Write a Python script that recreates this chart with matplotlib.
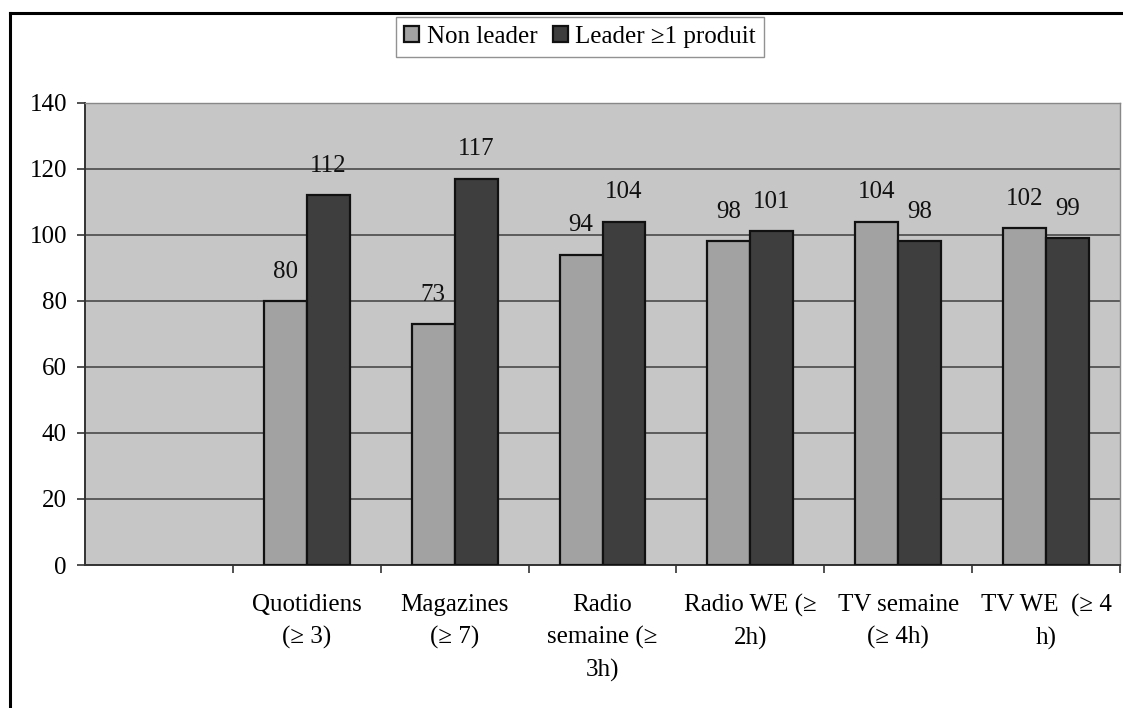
import numpy as np
import matplotlib
matplotlib.use("Agg")
import matplotlib.pyplot as plt
from matplotlib.lines import Line2D

categories = ["", "Quotidiens\n(≥ 3)", "Magazines\n(≥ 7)", "Radio\nsemaine (≥\n3h)",
              "Radio WE (≥\n2h)", "TV semaine\n(≥ 4h)", "TV WE  (≥ 4\nh)"]
non_leader = [np.nan, 80, 73, 94, 98, 104, 102]
leader = [np.nan, 112, 117, 104, 101, 98, 99]
series_names = ["Non leader", "Leader ≥1 produit"]
yticks = [0, 20, 40, 60, 80, 100, 120, 140]

plt.rcParams['font.family'] = ['Liberation Serif', 'DejaVu Serif']

fig = plt.figure(figsize=(11.23, 7.08), dpi=100)
ax = fig.add_axes([85/1123, (708-565)/708, (1120-85)/1123, (565-102.6)/708])
ax.set_facecolor('#c6c6c6')

x = np.arange(len(categories))
w = 0.29
b1 = ax.bar(x - w/2, non_leader, w, color='#a2a2a2', edgecolor='#111111', linewidth=1.6,
            label=series_names[0], zorder=3)
b2 = ax.bar(x + w/2, leader, w, color='#3e3e3e', edgecolor='#111111', linewidth=1.6,
            label=series_names[1], zorder=3)

for bars, vals in ((b1, non_leader), (b2, leader)):
    for r, v in zip(bars, vals):
        if np.isnan(v):
            continue
        ax.text(r.get_x() + r.get_width()/2, v + 5.5, f"{int(v)}", ha='center', va='bottom',
                fontsize=18, color='#111111')

ax.set_xlim(-0.5, len(categories) - 0.5)
ax.set_ylim(0, 140)
ax.set_yticks(yticks)
ax.set_yticklabels([str(t) for t in yticks], fontsize=18)
ax.yaxis.grid(True, color='#4a4a4a', linewidth=1.2, zorder=1)
ax.set_axisbelow(True)

ax.set_xticks(x)
ax.set_xticklabels(categories, fontsize=18, linespacing=1.55, va='top')
ax.tick_params(axis='x', which='major', length=0, pad=21)
ax.set_xticks(np.arange(len(categories)) + 0.5, minor=True)
ax.tick_params(axis='x', which='minor', length=6, width=1.2, color='#333333')
ax.tick_params(axis='y', length=6, width=1.2, color='#333333', pad=7)

for side in ('top', 'right'):
    ax.spines[side].set_color('#888888')
    ax.spines[side].set_linewidth(1.0)
for side in ('left', 'bottom'):
    ax.spines[side].set_color('#333333')
    ax.spines[side].set_linewidth(1.4)

leg = fig.legend(handles=[b1, b2], labels=series_names, loc='center',
                 bbox_to_anchor=(580/1123, 1 - 37/708), ncol=2, fontsize=18,
                 frameon=True, fancybox=False, handlelength=0.6, handleheight=0.6,
                 handletextpad=0.3, columnspacing=0.6, borderpad=0.35)
leg.get_frame().set_edgecolor('#777777')
leg.get_frame().set_linewidth(1.0)

# figure frame lines
fig.add_artist(Line2D([10/1123, 10/1123], [0, 1 - 13/708], color='black', linewidth=2.2,
                      transform=fig.transFigure))
fig.add_artist(Line2D([10/1123, 1], [1 - 13/708, 1 - 13/708], color='black', linewidth=2.2,
                      transform=fig.transFigure))

fig.savefig("out.png", dpi=100)
